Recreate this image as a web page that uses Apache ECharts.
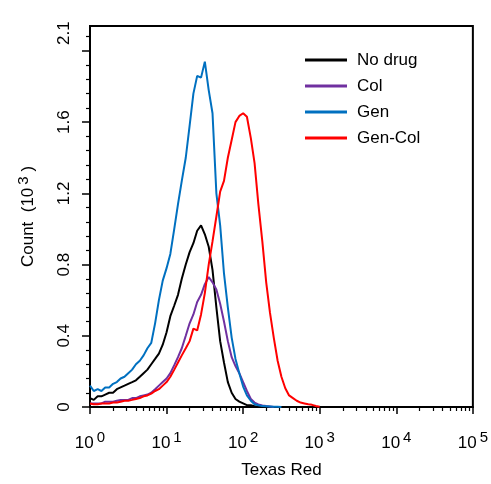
<!DOCTYPE html>
<html>
<head>
<meta charset="utf-8">
<script src="https://cdn.jsdelivr.net/npm/echarts@6/dist/echarts.min.js"></script>
<style>
  html, body { margin: 0; padding: 0; background: #fff; }
  #chart { width: 491px; height: 484px; }
</style>
</head>
<body>
<div id="chart"></div>
<script>
// channel values (Texas Red), 0.05 decade steps
var binValues = [
  1.00, 1.12, 1.26, 1.41, 1.58, 1.78, 2.00, 2.24, 2.51, 2.82,
  3.16, 3.55, 3.98, 4.47, 5.01, 5.62, 6.31, 7.08, 7.94, 8.91,
  10.0, 11.2, 12.6, 14.1, 15.8, 17.8, 20.0, 22.4, 25.1, 28.2,
  31.6, 35.5, 39.8, 44.7, 50.1, 56.2, 63.1, 70.8, 79.4, 89.1,
  100, 112, 126, 141, 158, 178, 200, 224, 251, 282,
  316, 355, 398, 447, 501, 562, 631, 708, 794, 891,
  1000
]

// counts (10^3)
var noDrug = [
  0.05, 0.04, 0.06, 0.06, 0.07, 0.08, 0.08, 0.10, 0.11, 0.12,
  0.13, 0.14, 0.15, 0.17, 0.19, 0.21, 0.24, 0.27, 0.30, 0.35,
  0.42, 0.51, 0.57, 0.63, 0.72, 0.80, 0.87, 0.92, 0.99, 1.02,
  0.97, 0.90, 0.77, 0.56, 0.37, 0.25, 0.14, 0.08, 0.045, 0.03,
  0.02, 0.01, 0.01, 0.005, 0
]
var col = [
  0.02, 0.02, 0.02, 0.02, 0.03, 0.03, 0.03, 0.035, 0.04, 0.04,
  0.04, 0.05, 0.05, 0.06, 0.065, 0.07, 0.08, 0.10, 0.12, 0.14,
  0.16, 0.19, 0.235, 0.28, 0.33, 0.40, 0.47, 0.52, 0.59, 0.63,
  0.69, 0.73, 0.70, 0.66, 0.58, 0.48, 0.37, 0.28, 0.23, 0.19,
  0.14, 0.09, 0.045, 0.025, 0.015, 0.008, 0.005, 0.003, 0
]
var gen = [
  0.12, 0.09, 0.10, 0.09, 0.11, 0.11, 0.13, 0.14, 0.16, 0.17,
  0.19, 0.21, 0.24, 0.26, 0.29, 0.33, 0.36, 0.47, 0.60, 0.71,
  0.78, 0.86, 1.00, 1.14, 1.27, 1.40, 1.58, 1.76, 1.86, 1.85,
  1.94, 1.78, 1.65, 1.20, 1.02, 0.75, 0.56, 0.39, 0.27, 0.19,
  0.115, 0.065, 0.035, 0.015, 0.01, 0.005, 0.004, 0.003, 0.002, 0.002,
  0
]
var genCol = [
  0.02, 0.015, 0.015, 0.02, 0.02, 0.02, 0.025, 0.025, 0.03, 0.035,
  0.035, 0.04, 0.045, 0.05, 0.06, 0.065, 0.075, 0.09, 0.10, 0.12,
  0.14, 0.17, 0.21, 0.25, 0.29, 0.33, 0.37, 0.44, 0.43, 0.52,
  0.64, 0.80, 0.93, 1.07, 1.21, 1.27, 1.40, 1.50, 1.60, 1.635,
  1.65, 1.63, 1.51, 1.37, 1.14, 0.93, 0.70, 0.53, 0.39, 0.26,
  0.17, 0.105, 0.065, 0.05, 0.035, 0.025, 0.02, 0.015, 0.012, 0.006,
  0.002
]

var seriesNames = ['No drug', 'Col', 'Gen', 'Gen-Col']
var seriesColors = ['#000000', '#7030a0', '#0070c0', '#ff0000']
var seriesCounts = [noDrug, col, gen, genCol]

// axis ticks / labels
var yLabelValues = [0, 0.4, 0.8, 1.2, 1.6, 2.1]
var yMajorTicks = [0, 0.4, 0.8, 1.2, 1.6, 2.0]
var yMinorTicks = [0.08, 0.16, 0.24, 0.32, 0.48, 0.56, 0.64, 0.72, 0.88, 0.96, 1.04, 1.12,
  1.28, 1.36, 1.44, 1.52, 1.68, 1.76, 1.84, 1.92, 2.08]
var xMajorTicks = [1, 10, 100, 1000, 10000, 100000]
var xMinorTicks = []
xMajorTicks.slice(0, 5).forEach(function (d) {
  for (var m = 2; m <= 9; m++) xMinorTicks.push(m * d)
})

var FONT = 'Liberation Sans, Arial, Helvetica, sans-serif'

function pairs (counts) {
  return counts.map(function (c, i) { return [binValues[i], c] })
}

var chart = echarts.init(document.getElementById('chart'), null, { renderer: 'canvas' })

chart.setOption({
  animation: false,
  backgroundColor: '#fff',
  textStyle: { fontFamily: FONT, color: '#000' },
  grid: {
    left: 90, right: 15, top: 26, bottom: 73,
    show: true, borderColor: '#000', borderWidth: 2, backgroundColor: 'transparent'
  },
  legend: {
    orient: 'vertical',
    left: 300,
    top: 45,
    itemWidth: 42,
    itemHeight: 3,
    itemGap: 6,
    icon: 'rect',
    data: seriesNames,
    textStyle: { fontFamily: FONT, fontSize: 17, color: '#000', lineHeight: 20, padding: [0, 0, 0, 5] }
  },
  xAxis: [{
    type: 'log',
    logBase: 10,
    min: 1,
    max: 100000,
    position: 'bottom',
    name: 'Texas Red',
    nameLocation: 'middle',
    nameGap: 55,
    nameTextStyle: { fontFamily: FONT, fontSize: 17, color: '#000' },
    axisLine: { lineStyle: { color: '#000', width: 2 } },
    axisTick: { customValues: xMajorTicks, length: 7, lineStyle: { color: '#000', width: 1.5 } },
    splitLine: { show: false },
    axisLabel: {
      customValues: xMajorTicks,
      margin: 23,
      formatter: function (v) {
        return '{b|10}{s|' + Math.round(Math.log10(v)) + '}'
      },
      rich: {
        b: { fontFamily: FONT, fontSize: 17, color: '#000' },
        s: { fontFamily: FONT, fontSize: 15, color: '#000', padding: [0, 0, 12, 3] }
      }
    }
  }, {
    type: 'log',
    logBase: 10,
    min: 1,
    max: 100000,
    position: 'bottom',
    axisLine: { show: false },
    axisTick: { customValues: xMinorTicks, length: 4, lineStyle: { color: '#000', width: 1.2 } },
    axisLabel: { show: false },
    splitLine: { show: false }
  }],
  yAxis: [{
    type: 'value',
    min: 0,
    max: 2.14,
    position: 'left',
    name: 'Count  (10{s|3} )',
    nameLocation: 'middle',
    nameGap: 49,
    nameRotate: 90,
    nameTextStyle: {
      fontFamily: FONT, fontSize: 17, color: '#000',
      rich: { s: { fontFamily: FONT, fontSize: 15, color: '#000', padding: [0, 0, 10, 3] } }
    },
    axisLine: { show: true, lineStyle: { color: '#000', width: 2 } },
    axisTick: { show: true, customValues: yMajorTicks, length: 8, lineStyle: { color: '#000', width: 1.5 } },
    splitLine: { show: false },
    axisLabel: {
      customValues: yLabelValues,
      rotate: 90,
      margin: 17,
      fontFamily: FONT,
      fontSize: 17,
      color: '#000',
      formatter: function (v) { return String(v) }
    }
  }, {
    type: 'value',
    min: 0,
    max: 2.14,
    position: 'left',
    axisLine: { show: false },
    axisTick: { show: true, customValues: yMinorTicks, length: 4, lineStyle: { color: '#000', width: 1.2 } },
    axisLabel: { show: false },
    splitLine: { show: false }
  }],
  series: seriesCounts.map(function (counts, i) {
    return {
      name: seriesNames[i],
      type: 'line',
      xAxisIndex: 0,
      yAxisIndex: 0,
      data: pairs(counts),
      showSymbol: false,
      symbol: 'none',
      color: seriesColors[i],
      lineStyle: { color: seriesColors[i], width: 2 },
      itemStyle: { color: seriesColors[i] }
    }
  })
})
</script>
</body>
</html>
